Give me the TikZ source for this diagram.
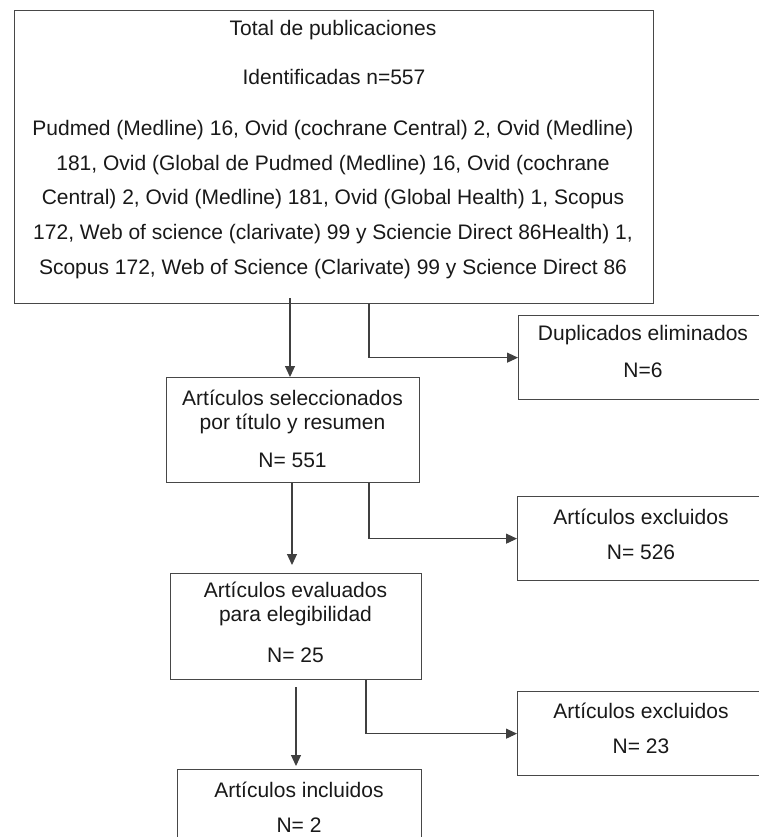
\documentclass[tikz,border=0pt]{standalone}
\usepackage{fontspec}
\setmainfont{Liberation Sans}
\usetikzlibrary{arrows.meta}
\begin{document}
\begin{tikzpicture}[x=1pt,y=-1pt,
  box/.style={draw=black!72, line width=1.3pt, anchor=north west, inner sep=0pt},
  txt/.style={font=\fontsize{21}{24.5}\selectfont, text=black!90, align=center, inner sep=0pt},
  para/.style={txt, font=\fontsize{21}{34.8}\selectfont},
  conn/.style={draw=black!75, line width=1.1pt},
  arr/.style={conn, -{Triangle[length=11pt,width=10pt]}}]
\useasboundingbox[fill=white] (0,0) rectangle (759,837);
% boxes
\node[box, minimum width=639pt, minimum height=293pt] (top) at (14,10) {};
\node[box, minimum width=250pt, minimum height=84pt] (dup) at (518,315) {};
\node[box, minimum width=253pt, minimum height=105pt] (sel) at (166,377) {};
\node[box, minimum width=250pt, minimum height=84pt] (exc1) at (517,496) {};
\node[box, minimum width=251pt, minimum height=106pt] (eva) at (170,573) {};
\node[box, minimum width=250pt, minimum height=84pt] (exc2) at (517,691) {};
\node[box, minimum width=244pt, minimum height=100pt] (inc) at (177,769) {};
% texts
\node[txt] (t1) at (333,30) {Total de publicaciones};
\node[txt] (t2) at (334,77) {Identificadas n=557};
\node[para] (t3) at (333,199.5) {Pudmed (Medline) 16, Ovid (cochrane Central) 2, Ovid (Medline)\\
181, Ovid (Global de Pudmed (Medline) 16, Ovid (cochrane\\
Central) 2, Ovid (Medline) 181, Ovid (Global Health) 1, Scopus\\
172, Web of science (clarivate) 99 y Sciencie Direct 86Health) 1,\\
Scopus 172, Web of Science (Clarivate) 99 y Science Direct 86};
\node[txt] (d1) at (643,335) {Duplicados eliminados};
\node[txt] (d2) at (643,370) {N=6};
\node[txt] (s1) at (292.5,412) {Artículos seleccionados\\por título y resumen};
\node[txt] (s2) at (292.5,460) {N= 551};
\node[txt] (e1a) at (641,517) {Artículos excluidos};
\node[txt] (e1b) at (641,552) {N= 526};
\node[txt] (v1) at (295.5,604) {Artículos evaluados\\para elegibilidad};
\node[txt] (v2) at (295.5,655) {N= 25};
\node[txt] (e2a) at (641,711) {Artículos excluidos};
\node[txt] (e2b) at (641,746) {N= 23};
\node[txt] (i1) at (299,790) {Artículos incluidos};
\node[txt] (i2) at (299,825) {N= 2};
% connector x positions
\coordinate (a1) at (290,0);
\coordinate (l1) at (369,0);
\coordinate (a2) at (292,0);
\coordinate (l2) at (369,0);
\coordinate (a3) at (296,0);
\coordinate (l3) at (366,0);
% connectors
\draw[arr, shorten <=-6pt] (top.south -| a1) -- (sel.north -| a1);
\draw[arr] (top.south -| l1) |- (dup.west);
\draw[arr, shorten >=8pt] (sel.south -| a2) -- (eva.north -| a2);
\draw[arr] (sel.south -| l2) |- (exc1.west);
\draw[arr, shorten <=7pt, shorten >=3pt] (eva.south -| a3) -- (inc.north -| a3);
\draw[arr] (eva.south -| l3) |- (exc2.west);
\end{tikzpicture}
\end{document}
